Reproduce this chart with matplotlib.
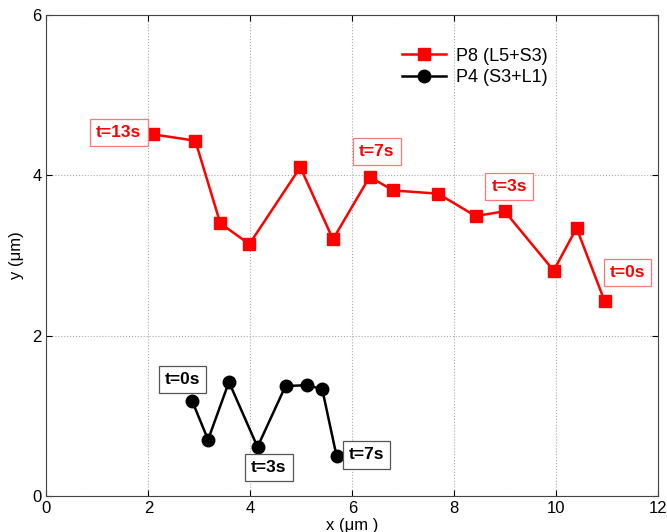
import matplotlib
matplotlib.use("Agg")
import matplotlib.pyplot as plt

plt.rcParams['font.family'] = ['Liberation Sans', 'DejaVu Sans']

# P8 trajectory (red squares)
p8_x = [2.09, 2.92, 3.41, 3.98, 4.98, 5.62, 6.34, 6.80, 7.68, 8.42, 8.99, 9.95, 10.40, 10.95]
p8_y = [4.51, 4.43, 3.40, 3.14, 4.10, 3.20, 3.98, 3.81, 3.77, 3.49, 3.55, 2.81, 3.34, 2.43]

# P4 trajectory (black circles)
p4_x = [2.86, 3.17, 3.58, 4.14, 4.69, 5.12, 5.41, 5.69]
p4_y = [1.18, 0.70, 1.42, 0.61, 1.37, 1.38, 1.33, 0.50]

# time annotations
p8_labels = ["t=13s", "t=7s", "t=3s", "t=0s"]
p8_label_x = [1.42, 6.48, 9.08, 11.40]
p8_label_y = [4.53, 4.30, 3.86, 2.79]
p4_labels = ["t=0s", "t=3s", "t=7s"]
p4_label_x = [2.67, 4.36, 6.28]
p4_label_y = [1.45, 0.35, 0.51]

fig = plt.figure(figsize=(6.67, 5.32), dpi=100)
ax = fig.add_axes([0.0697, 0.068, 0.917, 0.904])

ax.plot(p8_x, p8_y, "-s", color="red", lw=1.8, markersize=8, label="P8 (L5+S3)")
ax.plot(p4_x, p4_y, "-o", color="black", lw=1.8, markersize=9, label="P4 (S3+L1)")

for t, x, y in zip(p8_labels, p8_label_x, p8_label_y):
    ax.text(x, y, t, color="red", fontsize=12.5, fontweight="bold", ha="center", va="center",
            bbox=dict(boxstyle="square,pad=0.35", fc="white", ec="#ff7777", lw=0.9))
for t, x, y in zip(p4_labels, p4_label_x, p4_label_y):
    ax.text(x, y, t, color="black", fontsize=12.5, fontweight="bold", ha="center", va="center",
            bbox=dict(boxstyle="square,pad=0.35", fc="white", ec="#555555", lw=0.9))

ax.set_xlim(0, 12)
ax.set_ylim(0, 6)
ax.set_xticks(range(0, 13, 2))
ax.set_yticks(range(0, 7, 2))
ax.tick_params(direction="in", top=True, right=True, labelsize=12, length=4)
ax.grid(True, linestyle=":", color="#aaaaaa", lw=0.8)
for s in ax.spines.values():
    s.set_color("#444444")
    s.set_linewidth(0.8)

ax.set_xlabel("x (μm )", fontsize=12, labelpad=2)
ax.set_ylabel("y (μm)", fontsize=12, labelpad=6)

leg = ax.legend(loc="upper left", bbox_to_anchor=(0.558, 0.962), frameon=False, fontsize=13,
                handlelength=2.4, handletextpad=0.6, borderpad=0.3, labelspacing=0.25)

fig.savefig("out.png", dpi=100)
